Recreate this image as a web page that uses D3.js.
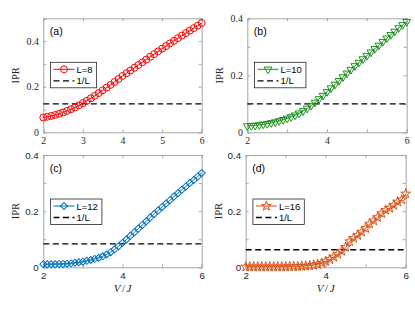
<!DOCTYPE html>
<html><head><meta charset="utf-8">
<script src="https://cdn.jsdelivr.net/npm/d3@7"></script>
<style>body{margin:0;background:#fff}svg{display:block}</style>
</head><body>
<script>
const vJ = [2.0,2.1,2.2,2.3,2.4,2.5,2.6,2.7,2.8,2.9,3.0,3.1,3.2,3.3,3.4,3.5,3.6,3.7,3.8,3.9,4.0,4.1,4.2,4.3,4.4,4.5,4.6,4.7,4.8,4.9,5.0,5.1,5.2,5.3,5.4,5.5,5.6,5.7,5.8,5.9,6.0];
const iprL8 = [0.065,0.068,0.072,0.076,0.081,0.087,0.094,0.101,0.109,0.118,0.128,0.138,0.149,0.160,0.172,0.184,0.196,0.208,0.221,0.234,0.247,0.259,0.271,0.283,0.295,0.307,0.319,0.331,0.343,0.355,0.367,0.378,0.390,0.401,0.413,0.424,0.435,0.446,0.457,0.468,0.479];
const iprL10 = [0.022,0.023,0.024,0.026,0.028,0.030,0.033,0.036,0.040,0.044,0.049,0.054,0.060,0.067,0.075,0.084,0.094,0.105,0.117,0.129,0.142,0.155,0.168,0.181,0.194,0.207,0.220,0.233,0.245,0.257,0.269,0.281,0.293,0.305,0.318,0.330,0.342,0.354,0.366,0.377,0.388];
const iprL12 = [0.011,0.011,0.011,0.011,0.012,0.012,0.013,0.014,0.016,0.018,0.020,0.023,0.026,0.030,0.034,0.039,0.046,0.054,0.064,0.075,0.087,0.099,0.112,0.125,0.138,0.151,0.164,0.177,0.190,0.202,0.215,0.227,0.239,0.252,0.264,0.276,0.288,0.300,0.311,0.323,0.336];
const iprL16 = [0.002,0.002,0.002,0.002,0.002,0.002,0.002,0.002,0.002,0.002,0.002,0.003,0.003,0.003,0.004,0.005,0.006,0.008,0.011,0.015,0.021,0.028,0.037,0.047,0.058,0.072,0.092,0.104,0.114,0.126,0.139,0.155,0.166,0.178,0.192,0.204,0.211,0.222,0.233,0.241,0.262];
const sizesL = [8,10,12,16];
const panelTags = ["(a)","(b)","(c)","(d)"];
const yMaxes = [0.5,0.4,0.4,0.4];
const xTickVals = [2,3,4,5,6];
const yTickVals = [0,0.1,0.2,0.3,0.4,0.5];
const xLabelsA = ["2","3","4","5","6"];
const xLabelsOther = ["2","","4","","6"];
const yTickLabels = ["0","","0.2","","0.4",""];

const series = [iprL8, iprL10, iprL12, iprL16];
const colors = ["#ff0000","#1f8f1f","#0072bd","#d95319"];
const markers = ["circle","tridown","diamond","star"];

const W = 415, H = 312;
const svg = d3.select("body").append("svg").attr("width", W).attr("height", H)
  .style("font-family","'Liberation Sans',Arial,sans-serif");

const boxes = [
  {x0:43.3, x1:201.7, y0:18.3, y1:132.3, serifTicks:true},
  {x0:247.3, x1:406.7, y0:18.3, y1:132.3, serifTicks:true},
  {x0:43.3, x1:201.7, y0:155, y1:267.3, serifTicks:false},
  {x0:245.7, x1:405.7, y0:155, y1:267.3, serifTicks:false}
];
const serif = "'Liberation Serif','Times New Roman',serif";
const sans = "'Liberation Sans',Arial,sans-serif";

function markerPath(kind){
  if (kind==="circle") return d3.symbol(d3.symbolCircle, 38)();
  if (kind==="tridown") return d3.symbol(d3.symbolTriangle, 26)();
  if (kind==="diamond") return d3.symbol(d3.symbolSquare, 25)();
  return d3.symbol(d3.symbolStar, 30)();
}
function markerRot(kind){
  if (kind==="tridown") return 180;
  if (kind==="diamond") return 45;
  return 0;
}

boxes.forEach((b, i) => {
  const g = svg.append("g");
  const x = d3.scaleLinear().domain([2,6]).range([b.x0, b.x1]);
  const y = d3.scaleLinear().domain([0, yMaxes[i]]).range([b.y1, b.y0]);
  const tickFont = b.serifTicks ? serif : sans;
  const yt = yTickVals.filter(v => v <= yMaxes[i] + 1e-9);
  const xLab = i === 0 ? xLabelsA : xLabelsOther;

  const axB = d3.axisBottom(x).tickValues(xTickVals).tickSize(-3).tickPadding(5)
    .tickFormat((d,k) => xLab[k]);
  const axT = d3.axisTop(x).tickValues(xTickVals).tickSize(-3).tickFormat("");
  const axL = d3.axisLeft(y).tickValues(yt).tickSize(-3).tickPadding(4.5)
    .tickFormat((d) => yTickLabels[yTickVals.indexOf(d)]);
  const axR = d3.axisRight(y).tickValues(yt).tickSize(-3).tickFormat("");

  const gb = g.append("g").attr("transform", `translate(0,${b.y1})`).call(axB);
  const gt = g.append("g").attr("transform", `translate(0,${b.y0})`).call(axT);
  const gl = g.append("g").attr("transform", `translate(${b.x0},0)`).call(axL);
  const gr = g.append("g").attr("transform", `translate(${b.x1},0)`).call(axR);
  [gb,gt,gl,gr].forEach(a => {
    a.select(".domain").attr("stroke","#a6a6a6").attr("stroke-width",1);
    a.selectAll(".tick line").attr("stroke","#a6a6a6");
    a.selectAll("text").attr("fill","#262626").style("font-family", tickFont).style("font-size","9.8px");
  });

  const invL = 1 / sizesL[i];
  g.append("line").attr("x1", x(2)).attr("x2", x(6)).attr("y1", y(invL)).attr("y2", y(invL))
    .attr("stroke","#000").attr("stroke-width",1.3).attr("stroke-dasharray","6,3.5");

  const pts = vJ.map((v,k) => [v, series[i][k]]);
  g.append("path").datum(pts)
    .attr("d", d3.line().x(d => x(d[0])).y(d => y(d[1])))
    .attr("fill","none").attr("stroke", colors[i]).attr("stroke-width",1);
  const mp = markerPath(markers[i]);
  const rot = markerRot(markers[i]);
  g.selectAll("path.mk").data(pts).join("path").attr("class","mk")
    .attr("d", mp)
    .attr("transform", d => `translate(${x(d[0])},${y(d[1])}) rotate(${rot})`)
    .attr("fill","none").attr("stroke", colors[i]).attr("stroke-width",1);

  g.append("text").attr("x", b.x0 + 6.5).attr("y", b.y0 + 17).text(panelTags[i])
    .style("font-size","10.5px").attr("fill","#000");

  // legend
  const lx = b.x0 + 7.2, ly = b.y0 + 44;
  const lh = 25.5;
  const rect = g.append("rect").attr("x", lx).attr("y", ly).attr("height", lh)
    .attr("fill","#fff").attr("stroke","#262626").attr("stroke-width",0.8);
  const r1 = ly + 7, r2 = ly + 18.5;
  g.append("line").attr("x1", lx+3).attr("x2", lx+24).attr("y1", r1).attr("y2", r1)
    .attr("stroke", colors[i]).attr("stroke-width",1);
  g.append("path").attr("d", mp).attr("transform", `translate(${lx+13.5},${r1}) rotate(${rot})`)
    .attr("fill","none").attr("stroke", colors[i]).attr("stroke-width",1);
  const t1 = g.append("text").attr("x", lx+26).attr("y", r1+3.5).text("L=" + sizesL[i]).style("font-size","9.5px");
  g.append("line").attr("x1", lx+3).attr("x2", lx+24).attr("y1", r2).attr("y2", r2)
    .attr("stroke","#000").attr("stroke-width",1.3).attr("stroke-dasharray","6,3.5");
  const t2 = g.append("text").attr("x", lx+26).attr("y", r2+3.5).text("1/L").style("font-size","9.5px");
  const tw = Math.max(t1.node().getComputedTextLength(), t2.node().getComputedTextLength());
  rect.attr("width", 26 + tw + 4);

  const cy = (b.y0 + b.y1) / 2;
  g.append("text").attr("transform", `translate(${b.x0 - 24},${cy}) rotate(-90)`)
    .attr("text-anchor","middle").text("IPR")
    .style("font-family", serif).style("font-size","10.5px").attr("fill","#262626");

  if (i >= 2) {
    const lbl = g.append("text").attr("x", (b.x0 + b.x1)/2).attr("y", b.y1 + 24.5)
      .attr("text-anchor","middle")
      .style("font-family", serif).style("font-size","11px").attr("fill","#262626");
    lbl.append("tspan").style("font-style","italic").text("V");
    lbl.append("tspan").attr("dx", 1.5).text("/");
    lbl.append("tspan").attr("dx", 1.5).style("font-style","italic").text("J");
  }
});
</script>
</body></html>
